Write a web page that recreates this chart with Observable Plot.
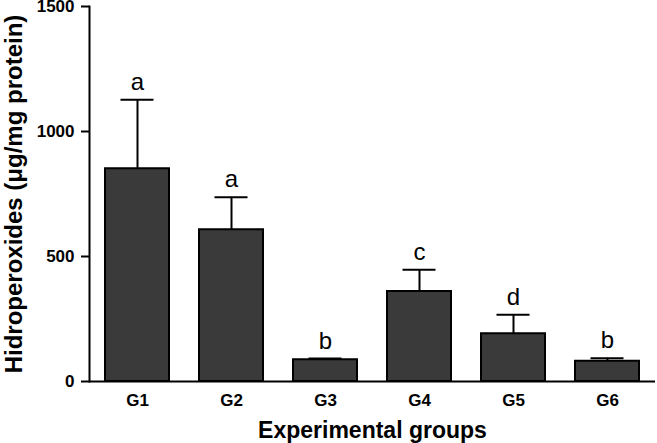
<!DOCTYPE html>
<html>
<head>
<meta charset="utf-8">
<script src="https://cdn.jsdelivr.net/npm/d3@7"></script>
<script src="https://cdn.jsdelivr.net/npm/@observablehq/plot@0.6"></script>
<style>
  html, body { margin: 0; padding: 0; background: #fff; }
</style>
</head>
<body>
<div id="chart"></div>
<script>
const groups = ["G1", "G2", "G3", "G4", "G5", "G6"];
const means = [851, 607, 87, 360, 191, 81];
const sem = [276, 130, 5, 87, 76, 12];
const letters = ["a", "a", "b", "c", "d", "b"];
const yTicks = [0, 500, 1000, 1500];
const xTitle = "Experimental groups";
const yTitle = "Hidroperoxides (\u03bcg/mg protein)";

const data = groups.map((g, i) => ({group: g, mean: means[i], top: means[i] + sem[i], letter: letters[i]}));

const font = "'Liberation Sans', Arial, Helvetica, sans-serif";

const chart = Plot.plot({
  width: 657,
  height: 443,
  marginLeft: 89,
  marginRight: 2,
  marginTop: 6,
  marginBottom: 62,
  style: {fontFamily: font, color: "#000", background: "#fff", overflow: "visible"},
  x: {domain: groups, paddingInner: 0.32, paddingOuter: 0.16},
  y: {domain: [0, 1500]},
  marks: [
    Plot.ruleX(data, {x: "group", y1: "mean", y2: "top", stroke: "#000", strokeWidth: 2}),
    Plot.tickY(data, {x: "group", y: "top", stroke: "#000", strokeWidth: 2, insetLeft: 15.5, insetRight: 15.5}),
    Plot.barY(data, {x: "group", y: "mean", fill: "#3a3a3a", stroke: "#000", strokeWidth: 2}),
    Plot.text(data, {x: "group", y: "top", text: "letter", dy: -10, lineAnchor: "bottom", fontSize: 24, fill: "#000"}),
    Plot.axisY({ticks: yTicks, tickFormat: d => String(d), tickSize: 8, tickPadding: 7, fontSize: 17, fontWeight: "bold", strokeWidth: 2, label: null}),
    Plot.axisX({tickSize: 0, tickPadding: 12, fontSize: 17, fontWeight: "bold", label: null}),
    Plot.frame({anchor: "left", strokeWidth: 2}),
    Plot.ruleY([0], {strokeWidth: 2}),
    Plot.text([xTitle], {frameAnchor: "bottom", dy: 49, lineAnchor: "middle", textAnchor: "middle", fontSize: 23, fontWeight: "bold", fill: "#000"}),
    Plot.text([yTitle], {frameAnchor: "left", rotate: -90, dx: -75, lineAnchor: "middle", textAnchor: "middle", fontSize: 24, fontWeight: "bold", fill: "#000"})
  ]
});
document.getElementById("chart").appendChild(chart);
</script>
</body>
</html>
